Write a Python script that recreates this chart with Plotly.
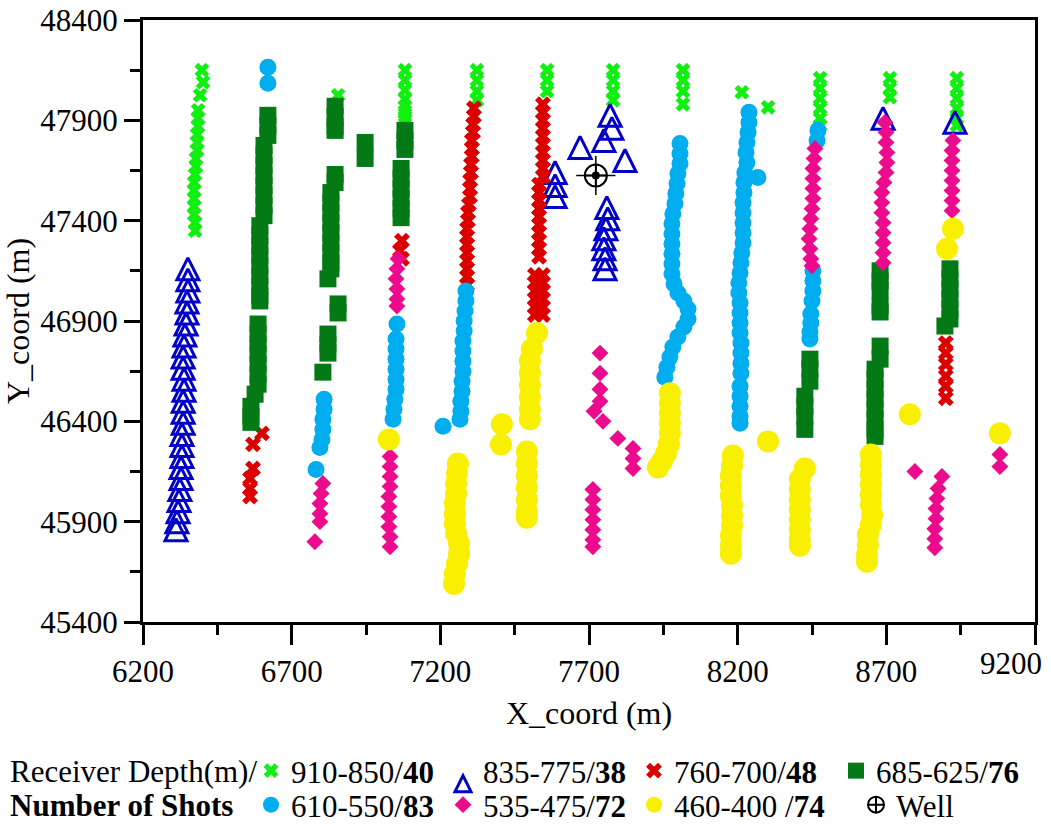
import plotly.graph_objects as go

FONT = "Liberation Serif"

# Receiver depth bins (m) and number of shots recorded in each
DEPTH_BINS = ["910-850", "835-775", "760-700", "685-625", "610-550", "535-475", "460-400 "]
SHOT_COUNTS = [40, 38, 48, 76, 83, 72, 74]

X_TICKS = [6200, 6700, 7200, 7700, 8200, 8700, 9200]
Y_TICKS = [45400, 45900, 46400, 46900, 47400, 47900, 48400]

# ---- shot coordinates per receiver-depth bin (m) ----
D910_X = [6398, 6402, 6392, 6385, 6385, 6385, 6382, 6382, 6382, 6378, 6378, 6375, 6372, 6372, 6372, 6372, 6372, 6375, 6375,
          6856,
          7081, 7081, 7081, 7081, 7081, 7081, 7081, 7081,
          7323, 7323, 7323, 7323,
          7559, 7559, 7559,
          7781, 7781, 7781, 7781,
          8016, 8016, 8016, 8016,
          8214, 8302,
          8477, 8477, 8477, 8477, 8477, 8477,
          8712, 8712, 8712,
          8937, 8937, 8937, 8937, 8937, 8937]
D910_Y = [48150, 48090, 48025, 47950, 47910, 47870, 47830, 47790, 47750, 47710, 47670, 47630, 47590, 47550, 47510, 47470, 47430, 47390, 47350,
          48025,
          48150, 48100, 48050, 48005, 47970, 47945, 47920, 47900,
          48150, 48100, 48045, 48000,
          48150, 48100, 48045,
          48150, 48100, 48045, 48000,
          48150, 48100, 48045, 47980,
          48040, 47965,
          48110, 48060, 48010, 47960, 47910, 47875,
          48110, 48060, 48015,
          48110, 48060, 48010, 47960, 47910, 47875]

D835_X = [6351, 6351, 6351, 6348, 6348, 6345, 6341, 6338, 6335, 6335, 6338, 6338, 6335, 6335, 6335, 6331, 6331, 6331, 6328, 6328,
          6324, 6321, 6318, 6314, 6311,
          7586, 7586, 7586, 7670, 7771, 7777, 7750, 7821,
          7760, 7763, 7757, 7750, 7750, 7754, 7754,
          8689, 8931]
D835_Y = [47160, 47105, 47050, 46995, 46940, 46885, 46830, 46775, 46720, 46665, 46610, 46555, 46500, 46445, 46390, 46335, 46280, 46225, 46170, 46115,
          46060, 46005, 45950, 45900, 45860,
          47640, 47575, 47520, 47765, 47925, 47860, 47800, 47700,
          47465, 47410, 47360, 47310, 47260, 47210, 47160,
          47910, 47890]

D760_X = [6600, 6570, 6570, 6560, 6560, 6560,
          7071, 7064, 7071,
          7313, 7313, 7310, 7310, 7306, 7306, 7306, 7303, 7303, 7300, 7300, 7300, 7296,
          7293, 7293, 7290, 7290, 7290, 7290, 7290, 7290, 7290, 7290,
          7545, 7545, 7545, 7545, 7545, 7545, 7545, 7545, 7545, 7545,
          7532, 7532, 7532, 7532, 7532, 7532, 7532, 7532, 7532, 7532,
          7518, 7545, 7518, 7545, 7518, 7545, 7518, 7545, 7518, 7545, 7518, 7545,
          8900, 8900, 8900, 8900, 8900, 8900]
D760_Y = [46340, 46285, 46165, 46115, 46065, 46025,
          47300, 47250, 47210,
          47960, 47920, 47880, 47840, 47800, 47760, 47720, 47680, 47640, 47600, 47560, 47520, 47480,
          47440, 47400, 47360, 47320, 47280, 47240, 47200, 47160, 47120, 47080,
          47980, 47940, 47900, 47860, 47820, 47780, 47740, 47700, 47660, 47620,
          47580, 47540, 47500, 47460, 47420, 47380, 47340, 47300, 47260, 47220,
          47130, 47130, 47090, 47090, 47050, 47050, 47010, 47010, 46970, 46970, 46930, 46930,
          46790, 46740, 46685, 46625, 46575, 46515]

D685_X = [6620, 6620, 6620,
          6607, 6607, 6607, 6607, 6607, 6607, 6607, 6607,
          6593, 6593, 6593, 6593, 6593, 6593, 6593, 6593, 6593,
          6587, 6587, 6587, 6587, 6587, 6587, 6587,
          6577, 6563, 6563, 6563,
          6846, 6846, 6846, 6846, 6846, 6846,
          6832, 6832, 6832, 6832, 6832, 6832, 6832, 6832, 6832,
          6822, 6856, 6856, 6822, 6822, 6822, 6805,
          6947, 6947,
          7081, 7081, 7081,
          7068, 7068, 7068, 7068, 7068, 7068,
          8443, 8443, 8443, 8426, 8426, 8426, 8426,
          8679, 8679, 8679, 8679, 8679, 8679, 8679,
          8662, 8662, 8662, 8662, 8662, 8662, 8662, 8662,
          8914, 8914, 8914, 8914, 8914, 8914, 8897]
D685_Y = [47925, 47875, 47825,
          47775, 47725, 47675, 47625, 47575, 47525, 47475, 47425,
          47375, 47325, 47275, 47225, 47175, 47125, 47075, 47025, 47000,
          46885, 46835, 46785, 46735, 46685, 46635, 46585,
          46535, 46475, 46425, 46395,
          47970, 47920, 47870, 47850, 47630, 47590,
          47540, 47490, 47440, 47390, 47340, 47290, 47240, 47190, 47160,
          47110, 46985, 46940, 46835, 46785, 46740, 46645,
          47790, 47710,
          47850, 47800, 47755,
          47660, 47610, 47560, 47510, 47460, 47415,
          46710, 46660, 46600, 46525, 46475, 46425, 46360,
          47150, 47100, 47055, 46975, 46945, 46775, 46710,
          46660, 46610, 46560, 46510, 46460, 46410, 46360, 46325,
          47160, 47110, 47060, 47010, 46960, 46910, 46875]

D610_X = [6620, 6620,
          6809, 6809, 6805, 6805, 6802, 6795, 6782,
          7054, 7051, 7051, 7051, 7051, 7051, 7051, 7047, 7044, 7041,
          7209,
          7286, 7286, 7283, 7280, 7280, 7276, 7276, 7276, 7276, 7273, 7273, 7269, 7269, 7266,
          8006, 8006, 8006, 7999, 7996, 7992, 7989, 7982, 7979, 7979, 7979, 7979, 7979, 7979,
          7986, 7999, 8019, 8033, 8033, 8019, 7999, 7982, 7972, 7962, 7955,
          8238, 8238, 8235, 8231, 8228, 8231, 8268, 8224, 8221, 8221, 8218, 8218, 8218, 8218, 8218,
          8214, 8211, 8208, 8204, 8204, 8208, 8208, 8208, 8208, 8211, 8211, 8211, 8211,
          8208, 8208, 8208, 8208, 8208,
          8470, 8467, 8453, 8453, 8453, 8450, 8446, 8446, 8443, 8443]
D610_Y = [48165, 48085,
          46510, 46460, 46410, 46360, 46310, 46270, 46160,
          46885, 46810, 46760, 46710, 46660, 46610, 46560, 46510, 46460, 46410,
          46375,
          47050, 47000, 46950, 46900, 46850, 46800, 46750, 46700, 46650, 46600, 46550, 46500, 46450, 46410,
          47785, 47735, 47685, 47635, 47585, 47535, 47485, 47435, 47385, 47335, 47285, 47235, 47185, 47135,
          47085, 47040, 47000, 46960, 46910, 46870, 46820, 46770, 46720, 46670, 46620,
          47940, 47890, 47840, 47790, 47740, 47690, 47615, 47640, 47590, 47540, 47490, 47440, 47390, 47340, 47290,
          47240, 47190, 47140, 47090, 47040, 46990, 46940, 46890, 46840, 46790, 46740, 46690, 46640,
          46575, 46525, 46475, 46425, 46390,
          47850, 47800, 47150, 47100, 47050, 47000, 46935, 46890, 46845, 46810]

D535_X = [6805, 6799, 6795, 6795, 6795, 6778,
          7058, 7054, 7051, 7054, 7054, 7054,
          7031, 7031, 7031, 7031, 7027, 7027, 7027, 7027, 7031, 7031,
          7737, 7737, 7737, 7737, 7717, 7747, 7797, 7848, 7848, 7848,
          7713, 7713, 7713, 7713, 7713, 7713, 7713,
          8460, 8457, 8453, 8453, 8453, 8453, 8450, 8446, 8443, 8440, 8443, 8446, 8450,
          8695, 8699, 8699, 8702, 8702, 8699, 8692, 8685, 8685, 8685, 8689, 8689, 8689, 8689, 8689,
          8924, 8921, 8921, 8921, 8921, 8921, 8921, 8921,
          8796,
          8887, 8874, 8870, 8867, 8867, 8863, 8863, 8863,
          9082, 9082]
D535_Y = [46090, 46040, 45990, 45940, 45900, 45800,
          47210, 47160, 47110, 47060, 47010, 46975,
          46225, 46175, 46125, 46075, 46025, 45975, 45925, 45875, 45825, 45775,
          46740, 46640, 46560, 46500, 46450, 46400, 46315, 46265, 46215, 46165,
          46060, 46010, 45960, 45910, 45860, 45810, 45775,
          47760, 47710, 47660, 47610, 47560, 47510, 47460, 47410, 47360, 47310, 47260, 47210, 47175,
          47890, 47840, 47790, 47740, 47690, 47640, 47590, 47540, 47490, 47440, 47390, 47340, 47290, 47240, 47190,
          47800, 47750, 47700, 47650, 47600, 47550, 47500, 47450,
          46150,
          46125, 46065, 46015, 45965, 45915, 45865, 45815, 45770,
          46235, 46175]

D460_X = [7027,
          7259, 7256, 7253, 7253, 7249, 7249, 7249, 7253, 7263, 7263, 7256, 7249, 7246,
          7407, 7404,
          7525, 7508, 7501, 7501, 7501, 7501, 7501, 7501,
          7491, 7491, 7491, 7491, 7491, 7491, 7491,
          7972, 7972, 7972, 7972, 7972, 7969, 7959, 7945, 7932,
          8184, 8181, 8177, 8177, 8177, 8181, 8181, 8181, 8177, 8177, 8177,
          8302,
          8426, 8409, 8409, 8409, 8409, 8409, 8409, 8409, 8409,
          8648, 8648, 8648, 8648, 8648, 8648, 8652, 8648, 8638, 8638, 8635, 8635,
          8924, 8904,
          8779,
          9082]
D460_Y = [46310,
          46190, 46140, 46090, 46040, 45990, 45940, 45890, 45840, 45790, 45740, 45690, 45640, 45590,
          46385, 46285,
          46840, 46760, 46700, 46640, 46580, 46520, 46460, 46410,
          46250, 46190, 46130, 46070, 46010, 45950, 45920,
          46540, 46490, 46440, 46390, 46340, 46290, 46240, 46200, 46170,
          46230, 46180, 46130, 46080, 46030, 45980, 45930, 45880, 45830, 45780, 45740,
          46300,
          46165, 46110, 46060, 46010, 45960, 45910, 45860, 45810, 45780,
          46235, 46185, 46135, 46085, 46035, 45985, 45935, 45885, 45835, 45785, 45735, 45700,
          47360, 47260,
          46435,
          46340]

WELL_X = [7723]
WELL_Y = [47625]

SERIES_X = [D910_X, D835_X, D760_X, D685_X, D610_X, D535_X, D460_X]
SERIES_Y = [D910_Y, D835_Y, D760_Y, D685_Y, D610_Y, D535_Y, D460_Y]

# marker style per depth bin (drawn in this order, last on top).
# The tall open triangle is an arrow glyph turned upright and re-centred on its point
# (standoff = half its height).
STYLES = [
    dict(symbol="x", size=13, color="#10F010"),
    dict(symbol="arrow-down-open", angle=180, standoff=11, size=22, color="#0000C8",
         line=dict(width=3, color="#0000C8")),
    dict(symbol="x", size=14, color="#DD0000"),
    dict(symbol="square", size=17, color="#037A15"),
    dict(symbol="circle", size=17, color="#00AEEF"),
    dict(symbol="diamond", size=13, color="#EC0B8D"),
    dict(symbol="circle", size=22, color="#F9F000"),
]
# legend keys are capped at 16 px, so each key gets its own style
LEGEND_STYLES = [
    dict(symbol="x", size=13, color="#10F010"),
    dict(symbol="arrow-down-open", angle=180, standoff=5, size=16, color="#0000C8",
         line=dict(width=3, color="#0000C8")),
    dict(symbol="x", size=14, color="#DD0000"),
    dict(symbol="square", size=16, color="#037A15"),
    dict(symbol="circle", size=16, color="#00AEEF"),
    dict(symbol="diamond", size=13, color="#EC0B8D"),
    dict(symbol="circle", size=16, color="#F9F000"),
]
# legend row and entry width for each bin
LEGEND_ROW = ["legend", "legend", "legend", "legend", "legend2", "legend2", "legend2"]
ENTRY_W = [147, 146, 157, 150, 147, 146, 177]

fig = go.Figure()

for i, (xs, ys) in enumerate(zip(SERIES_X, SERIES_Y)):
    st = dict(STYLES[i])
    st.setdefault("line", dict(width=0))
    fig.add_trace(go.Scatter(
        x=xs, y=ys, mode="markers", name=DEPTH_BINS[i], marker=st,
        showlegend=False, hoverinfo="x+y",
    ))

for i in range(len(DEPTH_BINS)):
    st = dict(LEGEND_STYLES[i])
    st.setdefault("line", dict(width=0))
    fig.add_trace(go.Scatter(
        x=[None], y=[None], mode="markers",
        name=f"{DEPTH_BINS[i]}/<b>{SHOT_COUNTS[i]}</b>",
        marker=st, legend=LEGEND_ROW[i], legendwidth=ENTRY_W[i],
    ))

# well: circle with crosshair and a solid centre
fig.add_trace(go.Scatter(
    x=WELL_X, y=WELL_Y, mode="markers", name="Well", legend="legend2", legendwidth=60,
    marker=dict(symbol="circle-cross-open", size=22, color="black", line=dict(width=2, color="black")),
))
fig.add_trace(go.Scatter(
    x=WELL_X, y=WELL_Y, mode="markers", showlegend=False, hoverinfo="skip",
    marker=dict(symbol="cross-thin-open", size=28, color="black", line=dict(width=1.5, color="black")),
))
fig.add_trace(go.Scatter(
    x=WELL_X, y=WELL_Y, mode="markers", showlegend=False, hoverinfo="skip",
    marker=dict(symbol="circle", size=8, color="black", line=dict(width=0)),
))

# plot-area geometry in pixels, used to place legend rows and captions
W, H = 1051, 825
L, R, T, B = 143, 16, 20, 203
PW, PH = W - L - R, H - T - B


def px_x(px):
    return (px - L) / PW


def px_y(py):
    return (H - B - py) / PH


axis_common = dict(
    showline=True, linecolor="black", linewidth=3, mirror=True,
    ticks="outside", tickwidth=2.5, tickcolor="black",
    showgrid=False, zeroline=False, tickformat="d",
    tickfont=dict(family=FONT, size=31, color="black"),
)

# the last x label is written separately, right-aligned so it stays inside the figure
x_ticktext = [str(v) for v in X_TICKS[:-1]] + [""]

fig.update_layout(
    width=W, height=H,
    margin=dict(l=L, r=R, t=T, b=B, autoexpand=False),
    plot_bgcolor="white", paper_bgcolor="white",
    font=dict(family=FONT, color="black"),
    xaxis=dict(
        range=[X_TICKS[0], X_TICKS[-1] + 0.01], tickmode="array", tickvals=X_TICKS, ticktext=x_ticktext,
        ticklen=20,
        minor=dict(ticks="outside", ticklen=10, tickwidth=2.5, tickcolor="black", dtick=250, tick0=X_TICKS[0]),
        title=dict(text="X_coord (m)", font=dict(family=FONT, size=32, color="black"), standoff=14),
        **axis_common,
    ),
    yaxis=dict(
        range=[Y_TICKS[0], Y_TICKS[-1]], tickmode="array", tickvals=Y_TICKS, ticklen=16,
        minor=dict(ticks="outside", ticklen=10, tickwidth=2.5, tickcolor="black", dtick=250, tick0=Y_TICKS[0]),
        title=dict(text="Y_coord (m)", font=dict(family=FONT, size=32, color="black"), standoff=2),
        **axis_common,
    ),
    legend=dict(
        orientation="h", x=px_x(251), xanchor="left", y=px_y(771), yanchor="middle",
        font=dict(family=FONT, size=31, color="black"), bgcolor="rgba(0,0,0,0)",
        itemsizing="trace", tracegroupgap=0,
    ),
    legend2=dict(
        orientation="h", x=px_x(251), xanchor="left", y=px_y(805), yanchor="middle",
        font=dict(family=FONT, size=31, color="black"), bgcolor="rgba(0,0,0,0)",
        itemsizing="trace", tracegroupgap=0,
    ),
    annotations=[
        dict(text=str(X_TICKS[-1]), xref="paper", yref="paper", x=px_x(1044), y=px_y(664),
             xanchor="right", yanchor="middle", showarrow=False,
             font=dict(family=FONT, size=31, color="black")),
        dict(text="Receiver Depth(m)/", xref="paper", yref="paper", x=px_x(8), y=px_y(771),
             xanchor="left", yanchor="middle", showarrow=False,
             font=dict(family=FONT, size=31, color="black")),
        dict(text="<b>Number of Shots</b>", xref="paper", yref="paper", x=px_x(8), y=px_y(805),
             xanchor="left", yanchor="middle", showarrow=False,
             font=dict(family=FONT, size=31, color="black")),
    ],
)

fig.write_html("out.html")
